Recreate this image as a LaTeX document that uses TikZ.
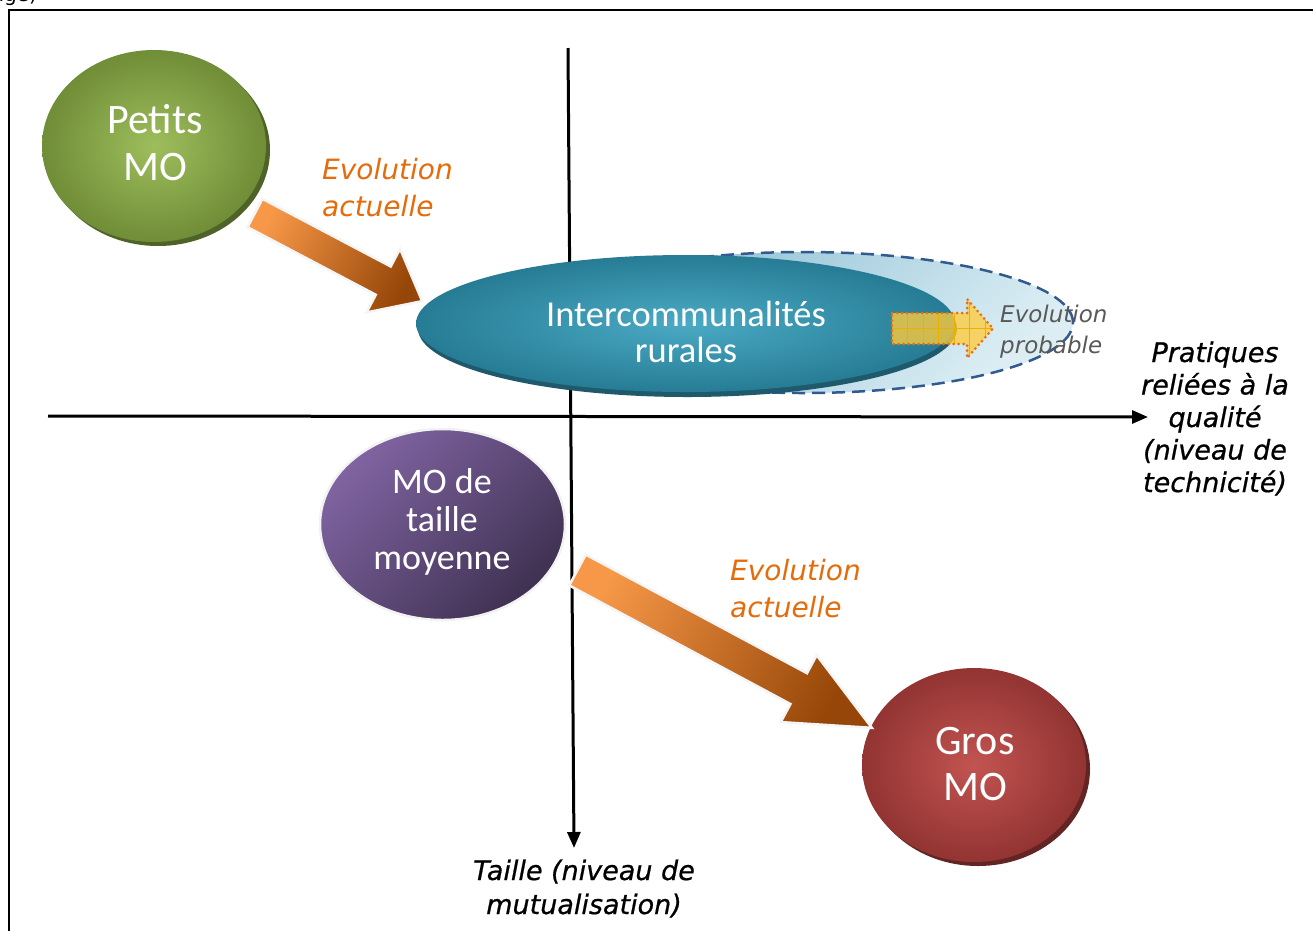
\documentclass[tikz,border=0pt]{standalone}
\usepackage{fontspec}
\setmainfont{DejaVu Sans}
\newfontfamily\calib{Carlito}
\newfontfamily\axfont{DejaVu Sans}[FakeBold=0.7]
\usetikzlibrary{arrows.meta,shapes.geometric,calc}
\newcommand{\mytab}[2]{\begin{tabular}[t]{@{}#1@{}}#2\end{tabular}}
\definecolor{greenin}{RGB}{158,190,92}
\definecolor{greenout}{RGB}{112,141,55}
\definecolor{greenshadow}{RGB}{79,98,40}
\definecolor{tealin}{RGB}{75,170,196}
\definecolor{tealout}{RGB}{38,124,148}
\definecolor{tealshadow}{RGB}{30,90,108}
\definecolor{redin}{RGB}{194,84,81}
\definecolor{redout}{RGB}{146,52,50}
\definecolor{redshadow}{RGB}{99,37,35}
\definecolor{purplelight}{RGB}{128,100,162}
\definecolor{purpledark}{RGB}{63,49,81}
\definecolor{arrowlight}{RGB}{247,152,72}
\definecolor{arrowdark}{RGB}{150,70,8}
\definecolor{evoorange}{RGB}{228,108,10}
\definecolor{lblueA}{RGB}{135,188,210}
\definecolor{lblueB}{RGB}{220,238,244}
\definecolor{dashblue}{RGB}{50,90,145}
\definecolor{yellowfill}{RGB}{255,204,60}
\definecolor{gridyellow}{RGB}{240,175,0}
\definecolor{dotorange}{RGB}{232,110,20}
\definecolor{greytext}{RGB}{89,89,89}
\tikzset{
  axisline/.style={line width=3pt, -{Triangle[length=16pt,width=13pt]}},
  blob/.style={ellipse, inner sep=0pt, draw=none},
  blobtext/.style={text=white, inner sep=0pt, anchor=base},
  evotext/.style={font=\fontsize{28}{37}\selectfont\itshape, text=evoorange, inner sep=0pt, anchor=base west},
  axlabel/.style={font=\axfont\fontsize{27}{32.5}\selectfont\itshape, inner sep=0pt, anchor=base},
  bigarrow/.style={draw=gray!8, line width=2.5pt, top color=arrowlight, bottom color=arrowdark, shading angle=62, line join=miter},
}
\begin{document}
\begin{tikzpicture}[x=1pt,y=-1pt]
\useasboundingbox (0,0) rectangle (1313,930);
% caption fragment and frame
\node[font=\fontsize{20}{24}\selectfont, inner sep=0pt, anchor=base east] (capfrag) at (37,1) {ngé)};
\coordinate (fbl) at (9,945);
\coordinate (ftl) at (9,10);
\coordinate (ftr) at (1330,10);
\draw[line width=2pt] (fbl) -- (ftl) -- (ftr);

% light blue dashed ellipse
\node[blob, minimum width=539pt, minimum height=141pt, draw=dashblue, line width=2.5pt,
      dash pattern=on 13pt off 7pt, top color=lblueA, bottom color=lblueB, shading angle=45] (future) at (803.5,322.5) {};

% axes
\coordinate (vtop) at (568,48);
\coordinate (vbot) at (574,848);
\coordinate (hleft) at (48,416);
\coordinate (hright) at (1148,417);
\draw[axisline] (vtop) -- (vbot);
\draw[axisline] (hleft) -- (hright);

% teal ellipse
\node[blob, minimum width=539pt, minimum height=137pt, fill=tealshadow] (intershadow) at (687.5,328.5) {};
\node[blob, minimum width=539pt, minimum height=137pt, inner color=tealin, outer color=tealout] (inter) at (685.5,323.5) {};

% green ellipse
\node[blob, minimum width=224pt, minimum height=192pt, fill=greenshadow] (petitsshadow) at (158,150) {};
\node[blob, minimum width=224pt, minimum height=192pt, inner color=greenin, outer color=greenout] (petits) at (154,146) {};

% red ellipse
\node[blob, minimum width=224pt, minimum height=194pt, fill=redshadow] (grosshadow) at (978,769) {};
\node[blob, minimum width=224pt, minimum height=194pt, inner color=redin, outer color=redout] (gros) at (974,765) {};

% purple ellipse
\node[blob, minimum width=245pt, minimum height=191pt, draw=gray!10, line width=2.5pt,
      top color=purplelight, bottom color=purpledark, shading angle=45] (moyen) at (442.5,524.5) {};

% orange arrow 1
\begin{scope}[shift={(255,213)}, rotate=-27.8]
  \coordinate (a1p1) at (0,-16);
  \coordinate (a1p2) at (145,-16);
  \coordinate (a1p3) at (145,-36);
  \coordinate (a1p4) at (189,0);
  \coordinate (a1p5) at (145,36);
  \coordinate (a1p6) at (145,16);
  \coordinate (a1p7) at (0,16);
\end{scope}
\path[bigarrow] (a1p1) -- (a1p2) -- (a1p3) -- (a1p4) -- (a1p5) -- (a1p6) -- (a1p7) -- cycle;

% orange arrow 2
\begin{scope}[shift={(577.5,570)}, rotate=-28.2]
  \coordinate (a2p1) at (0,-17.5);
  \coordinate (a2p2) at (251,-17.5);
  \coordinate (a2p3) at (251,-38);
  \coordinate (a2p4) at (334,0);
  \coordinate (a2p5) at (251,38);
  \coordinate (a2p6) at (251,17.5);
  \coordinate (a2p7) at (0,17.5);
\end{scope}
\path[bigarrow] (a2p1) -- (a2p2) -- (a2p3) -- (a2p4) -- (a2p5) -- (a2p6) -- (a2p7) -- cycle;

% yellow arrow (evolution probable)
\coordinate (y1) at (892,313);
\coordinate (y2) at (967,313);
\coordinate (y3) at (967,299);
\coordinate (y4) at (993,328.5);
\coordinate (y5) at (967,358);
\coordinate (y6) at (967,344);
\coordinate (y7) at (892,344);
\fill[yellowfill, opacity=0.78] (y1) -- (y2) -- (y3) -- (y4) -- (y5) -- (y6) -- (y7) -- cycle;
\begin{scope}
  \clip (y1) -- (y2) -- (y3) -- (y4) -- (y5) -- (y6) -- (y7) -- cycle;
  \foreach \gx in {907.5,923,938.5,954,969.5,985} {
    \draw[gridyellow, line width=1pt] (\gx,295) -- (\gx,362);
  }
  \draw[gridyellow, line width=1pt] (890,328.5) -- (995,328.5);
\end{scope}
\draw[dotorange, line width=3pt, line cap=round, dash pattern=on 0pt off 5pt]
  (y1) -- (y2) -- (y3) -- (y4) -- (y5) -- (y6) -- (y7) -- cycle;

% texts in ellipses
\node[blobtext, font=\calib\fontsize{42}{47}\selectfont] (petitstxt) at (155,133) {\mytab{c}{Petits\\MO}};
\node[blobtext, font=\calib\fontsize{36.5}{36.5}\selectfont] (intertxt) at (686,326) {\mytab{c}{Intercommunalités\\rurales}};
\node[blobtext, font=\calib\fontsize{36}{38}\selectfont] (moyentxt) at (442,493) {\mytab{c}{MO de\\taille\\moyenne}};
\node[blobtext, font=\calib\fontsize{42}{46}\selectfont] (grostxt) at (975,754) {\mytab{c}{Gros\\MO}};

% labels
\node[evotext] (evo1) at (322,179) {\mytab{l}{Evolution\\actuelle}};
\node[evotext] (evo2) at (730,580) {\mytab{l}{Evolution\\actuelle}};
\node[font=\fontsize{23}{31.5}\selectfont\itshape, text=greytext, inner sep=0pt, anchor=base west] (evoprob) at (1000,322) {\mytab{l}{Evolution\\probable}};
\node[axlabel] (xlabel) at (1215,362) {\mytab{c}{Pratiques\\reliées à la\\qualité\\(niveau de\\technicité)}};
\node[axlabel, font=\axfont\fontsize{27}{34}\selectfont\itshape] (ylabel) at (584,880) {\mytab{c}{Taille (niveau de\\mutualisation)}};
\end{tikzpicture}
\end{document}
